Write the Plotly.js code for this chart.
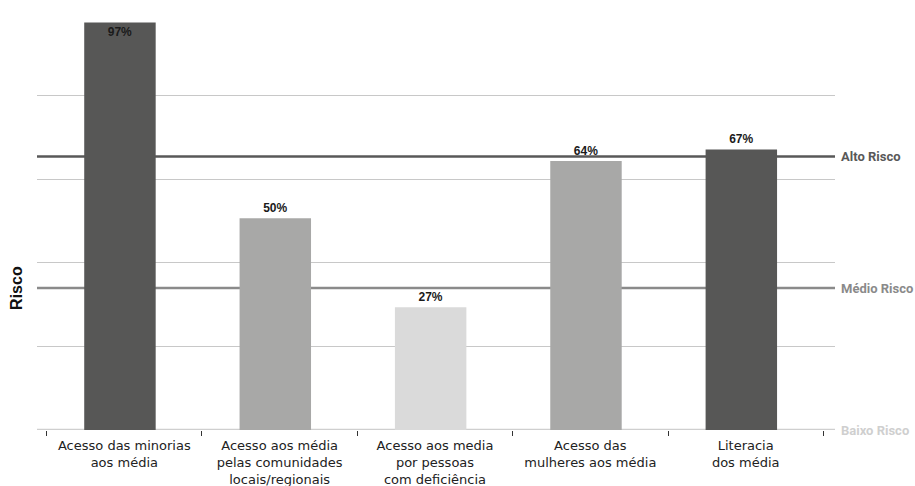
<!DOCTYPE html>
<html>
<head>
<meta charset="utf-8">
<script src="https://cdn.plot.ly/plotly-3.0.1.min.js"></script>
<style>
html,body{margin:0;padding:0;background:#fff;}
#chart{width:915px;height:486px;}
</style>
</head>
<body>
<div id="chart"></div>
<script>
// ---- data ----
var categories = [
  "Acesso das minorias<br>aos média",
  "Acesso aos média<br>pelas comunidades<br>locais/regionais",
  "Acesso aos media<br>por pessoas<br>com deficiência",
  "Acesso das<br>mulheres aos média",
  "Literacia<br>dos média"
];
var barHeights = [97.6, 50.7, 29.4, 64.4, 67.2];
var barLabels = ["97%", "50%", "27%", "64%", "67%"];
var riskLevels = [0, 34, 65.5];
var riskNames = ["Baixo Risco", "Médio Risco", "Alto Risco"];

// ---- styles ----
var barColors = ["#575756", "#a8a8a7", "#dadada", "#a8a8a7", "#575756"];
var textPos = ["inside", "outside", "outside", "outside", "outside"];
var riskColors = ["#cfcfcf", "#8a8a8a", "#585858"];
var labelFont = {family: "Liberation Sans, Arial, sans-serif", size: 12, color: "#1a1a1a", weight: "bold"};

var trace = {
  type: "bar",
  x: categories,
  y: barHeights,
  text: barLabels,
  textposition: textPos,
  insidetextanchor: "end",
  textfont: labelFont,
  insidetextfont: labelFont,
  outsidetextfont: labelFont,
  cliponaxis: false,
  marker: {color: barColors, line: {width: 0}},
  width: 0.46,
  offset: -0.258,
  hoverinfo: "skip"
};

var shapes = [];
var annotations = [];
for (var i = 0; i < riskLevels.length; i++) {
  shapes.push({
    type: "line", layer: "below",
    xref: "paper", x0: 0, x1: 1,
    yref: "y", y0: riskLevels[i], y1: riskLevels[i],
    line: {color: riskColors[i], width: 2.6}
  });
  annotations.push({
    xref: "paper", x: 1, xanchor: "left", xshift: 4,
    yref: "y", y: riskLevels[i], yanchor: "middle",
    text: riskNames[i], showarrow: false,
    font: {family: "Roboto, sans-serif", size: 13, color: riskColors[i], weight: "bold"}
  });
}
annotations.push({
  xref: "paper", x: 0, xshift: -20, xanchor: "center",
  yref: "paper", y: 0.34, yanchor: "middle",
  text: "Risco", textangle: -90, showarrow: false,
  font: {family: "Liberation Sans, Arial, sans-serif", size: 16, color: "#111", weight: "bold"}
});

var layout = {
  width: 915, height: 486,
  margin: {l: 37, r: 80, t: 12, b: 56, pad: 0},
  paper_bgcolor: "#fff", plot_bgcolor: "#fff",
  showlegend: false,
  xaxis: {
    type: "category",
    range: [-0.562, 4.575],
    tickson: "boundaries",
    ticks: "outside", ticklen: 5, tickwidth: 1, tickcolor: "#333",
    ticklabelstandoff: 6,
    showgrid: false, showline: false, zeroline: false,
    tickfont: {family: "DejaVu Sans, sans-serif", size: 13, color: "#222"},
    fixedrange: true
  },
  yaxis: {
    range: [0, 100.1],
    dtick: 20, tick0: 0,
    showticklabels: false, ticks: "",
    showgrid: true, gridcolor: "#c8c8c8", gridwidth: 1,
    zeroline: false, showline: false,
    fixedrange: true
  },
  shapes: shapes,
  annotations: annotations
};

Plotly.newPlot("chart", [trace], layout, {displayModeBar: false, staticPlot: true});
</script>
</body>
</html>
